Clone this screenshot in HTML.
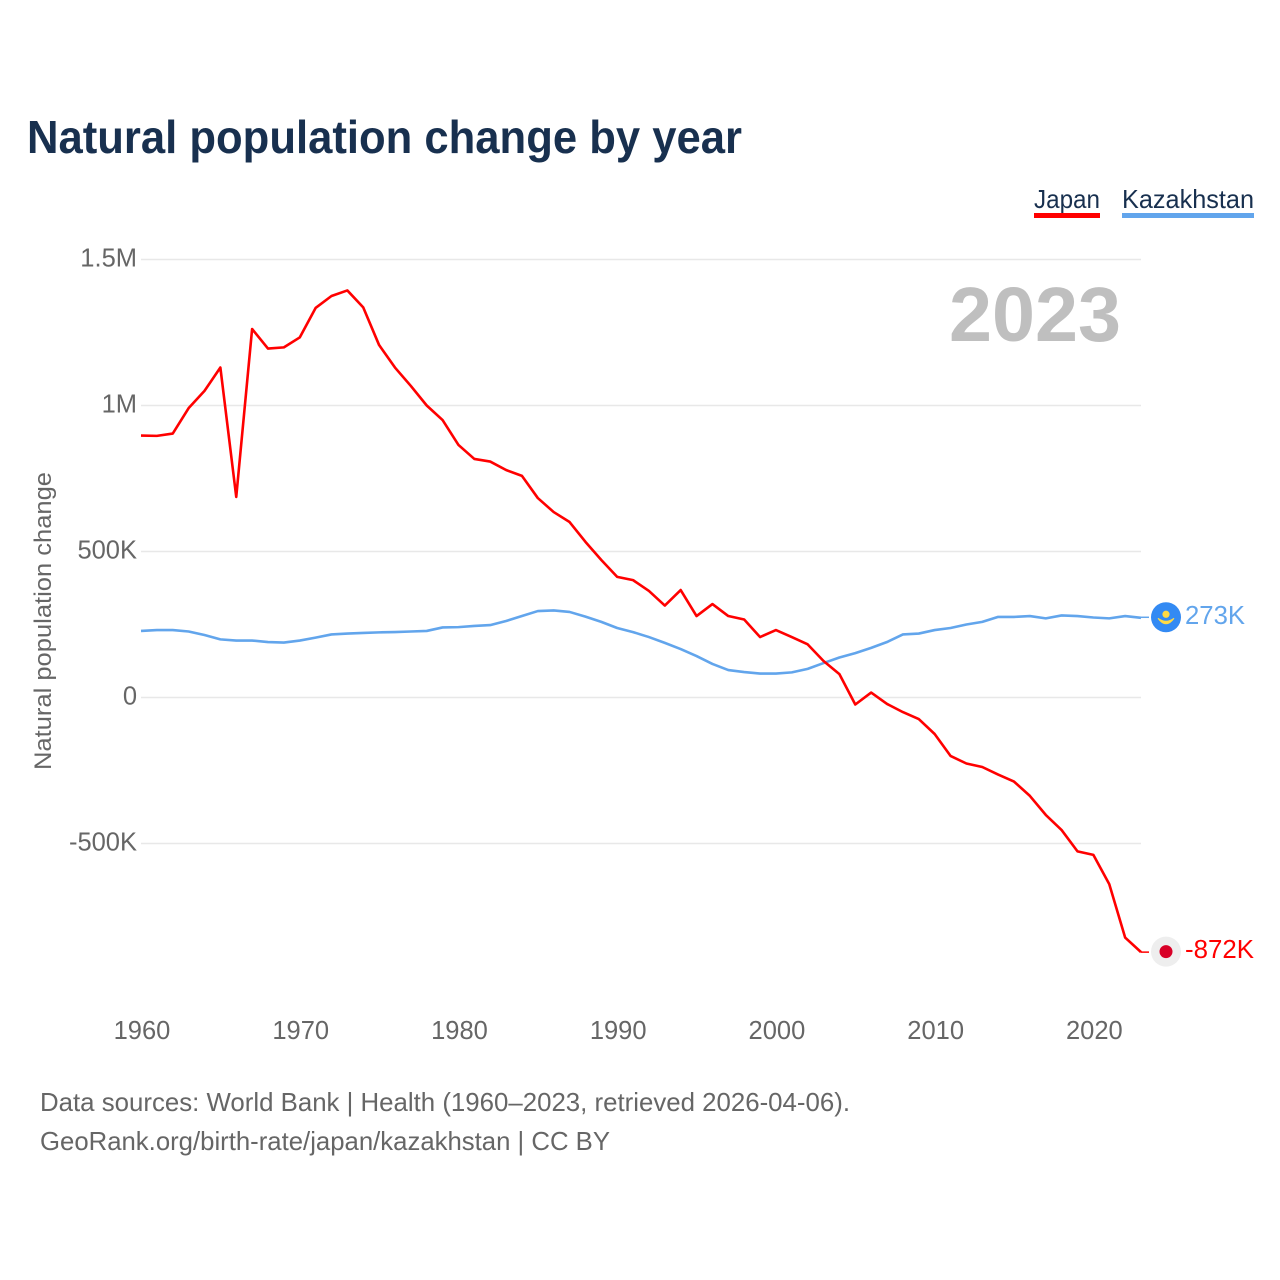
<!DOCTYPE html>
<html lang="en">
<head>
<meta charset="utf-8">
<title>Natural population change by year</title>
<style>
html,body{margin:0;padding:0;background:#fff;}
#chart{display:block;width:1280px;height:1280px;font-family:"Liberation Sans",sans-serif;}
</style>
</head>
<body>
<svg id="chart" xmlns="http://www.w3.org/2000/svg" width="1280" height="1280" viewBox="0 0 1280 1280">
  <rect x="0" y="0" width="1280" height="1280" fill="#ffffff"/>
  <text x="27" y="153" font-size="46" font-weight="700" fill="#18304f" textLength="715" lengthAdjust="spacingAndGlyphs">Natural population change by year</text>

  <g>
    <text x="1034" y="208" font-size="26" fill="#18304f" textLength="66" lengthAdjust="spacingAndGlyphs">Japan</text>
    <rect x="1034" y="213" width="66" height="5" fill="#ff0000"/>
  </g>
  <g>
    <text x="1122" y="208" font-size="26" fill="#18304f" textLength="132" lengthAdjust="spacingAndGlyphs">Kazakhstan</text>
    <rect x="1122" y="213" width="132" height="5" fill="#62a5ec"/>
  </g>

  <g id="grid"></g>
  <g id="yticks"></g>
  <g id="xticks"></g>

  <text transform="translate(51 621) rotate(-90)" text-anchor="middle" font-size="24" fill="#666666" textLength="298" lengthAdjust="spacingAndGlyphs">Natural population change</text>
  <text x="949" y="341" font-size="77" font-weight="700" fill="#bfbfbf" textLength="172" lengthAdjust="spacingAndGlyphs">2023</text>

  <g id="series"></g>
  <g id="endpoints"></g>

  <text x="40" y="1111" font-size="26" fill="#666666" textLength="810" lengthAdjust="spacingAndGlyphs">Data sources: World Bank | Health (1960–2023, retrieved 2026-04-06).</text>
  <text x="40" y="1150" font-size="26" fill="#666666" textLength="570" lengthAdjust="spacingAndGlyphs">GeoRank.org/birth-rate/japan/kazakhstan | CC BY</text>
</svg>
<script>
// Natural population change, thousands of people
const startYear = 1960;
const japanValues = [897,896,904,991,1050,1130,687,1262,1195,1199,1233,1334,1375,1394,1336,1207,1130,1067,1000,950,865,817,808,779,759,683,635,601,533,471,413,402,365,315,368,279,320,279,267,207,231,207,182,125,80,-24,17,-22,-50,-74,-125,-200,-226,-238,-264,-288,-337,-402,-454,-527,-539,-639,-822,-872];
const kazakhstanValues = [228,231,231,226,214,199,195,195,190,188,195,205,216,219,221,223,224,226,228,240,241,245,248,262,279,296,298,293,277,259,238,224,207,187,166,142,115,94,87,82,82,86,98,118,137,152,170,190,216,219,231,238,250,259,276,276,279,271,281,279,274,271,279,273];
const yTickValues = [1500,1000,500,0,-500];
const yTickLabels = ['1.5M','1M','500K','0','-500K'];
const xTickValues = [1960,1970,1980,1990,2000,2010,2020];

const SVG_NS = 'http://www.w3.org/2000/svg';
function xScale(year){ return 141 + (year - 1960) * (1000 / 63); }
function yScale(k){ return 697.5 - k * 0.292; }
function make(tag, attrs, parent){
  const el = document.createElementNS(SVG_NS, tag);
  for (const key in attrs) el.setAttribute(key, attrs[key]);
  parent.appendChild(el);
  return el;
}
function formatK(k){ return Math.round(k) + 'K'; }

const gridGroup = document.getElementById('grid');
const yTickGroup = document.getElementById('yticks');
yTickValues.forEach(function(v, i){
  const line = make('line', {x1:141, x2:1141, y1:yScale(v), y2:yScale(v), stroke:'#e8e8e8', 'stroke-width':1.5}, gridGroup);
  
  
  const label = make('text', {x:137, y:yScale(v)+7, 'text-anchor':'end', 'font-size':25.5, fill:'#666666'}, yTickGroup);
  
  
  label.textContent = yTickLabels[i];
});

const xTickGroup = document.getElementById('xticks');
xTickValues.forEach(function(year){
  const label = make('text', {x:xScale(year)+1, y:1039, 'text-anchor':'middle', 'font-size':25.5, fill:'#666666'}, xTickGroup);
  
  
  label.textContent = String(year);
});

function pointsFor(values){
  return values.map(function(v, i){ return xScale(startYear + i).toFixed(2) + ',' + yScale(v).toFixed(2); }).join(' ');
}
const seriesGroup = document.getElementById('series');
const kazakhstanLine = make('polyline', {points:pointsFor(kazakhstanValues), fill:'none', stroke:'#62a5ec', 'stroke-width':2.6, 'stroke-linejoin':'round'}, seriesGroup);


const japanLine = make('polyline', {points:pointsFor(japanValues), fill:'none', stroke:'#ff0000', 'stroke-width':2.6, 'stroke-linejoin':'round'}, seriesGroup);



const endGroup = document.getElementById('endpoints');
const lastYear = startYear + japanValues.length - 1;
const endX = xScale(lastYear);
const iconX = 1166;

const kzEndY = yScale(kazakhstanValues[kazakhstanValues.length - 1]);
const kzConnector = make('line', {x1:endX, x2:1149, y1:kzEndY-0.5, y2:kzEndY-0.5, stroke:'#62a5ec', 'stroke-width':1.5}, endGroup);


const kzFlag = make('circle', {cx:iconX, cy:kzEndY-0.5, r:15, fill:'#338af3'}, endGroup);


const kzSun = make('circle', {cx:iconX, cy:kzEndY-3.5, r:3.6, fill:'#ffda44'}, endGroup);


const kzEagle = make('path', {d:'M'+(iconX-8)+' '+(kzEndY+0.5)+' Q'+iconX+' '+(kzEndY+11.5)+' '+(iconX+8)+' '+(kzEndY+0.5)+' Q'+iconX+' '+(kzEndY+6.5)+' '+(iconX-8)+' '+(kzEndY+0.5)+'Z', fill:'#ffda44', stroke:'#ffda44', 'stroke-width':1}, endGroup);


const kzLabel = make('text', {x:1185, y:kzEndY+6, 'font-size':25.5, fill:'#62a5ec', textLength:60, lengthAdjust:'spacingAndGlyphs'}, endGroup);


kzLabel.textContent = formatK(kazakhstanValues[kazakhstanValues.length - 1]);

const jpEndY = yScale(japanValues[japanValues.length - 1]);
const jpConnector = make('line', {x1:endX, x2:1149, y1:jpEndY, y2:jpEndY, stroke:'#ff0000', 'stroke-width':1.5}, endGroup);


const jpFlag = make('circle', {cx:iconX, cy:jpEndY-0.5, r:15, fill:'#eeeeee'}, endGroup);


const jpDisc = make('circle', {cx:iconX, cy:jpEndY-0.5, r:6.5, fill:'#d80027'}, endGroup);


const jpLabel = make('text', {x:1185, y:jpEndY+6, 'font-size':25.5, fill:'#ff0000', textLength:69, lengthAdjust:'spacingAndGlyphs'}, endGroup);


jpLabel.textContent = formatK(japanValues[japanValues.length - 1]);
</script>
</body>
</html>
